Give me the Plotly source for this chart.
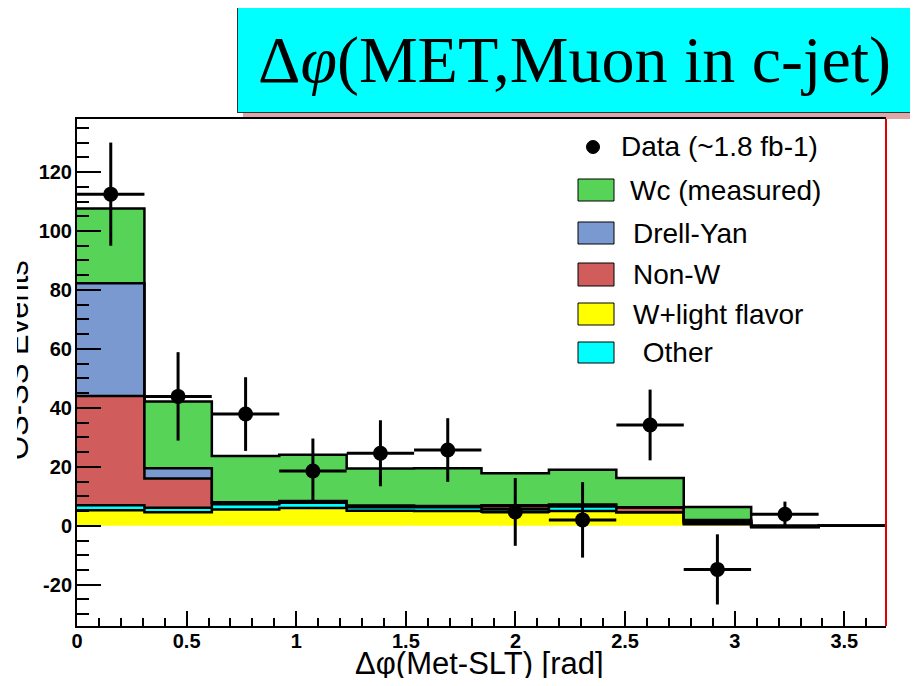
import plotly.graph_objects as go

# ---------------- data ----------------
bin_edges = [0.0, 0.3075, 0.615, 0.9225, 1.23, 1.5375, 1.845, 2.1525, 2.46, 2.7675, 3.075, 3.3825, 3.69]
wlight = [5.3, 4.6, 5.5, 6.0, 5.1, 5.0, 4.8, 5.0, 4.6, 0.5, 0.0, 0.0]
other = [1.7, 1.5, 1.8, 1.8, 1.2, 1.3, 1.0, 1.5, 0.0, 0.5, 0.0, 0.0]
nonw = [37.0, 9.9, 0.4, 0.4, 0.4, 0.3, 1.0, 0.5, 1.6, 0.5, -0.4, 0.0]
drellyan = [38.3, 3.5, 0.3, 0.2, 0.2, 0.1, 0.2, 0.2, 0.1, 0.5, 0.0, 0.0]
wc = [25.3, 22.7, 15.7, 15.7, 12.5, 12.8, 10.8, 11.8, 9.9, 4.4, 0.0, 0.0]

data_x = [0.154, 0.461, 0.769, 1.076, 1.384, 1.691, 1.999, 2.306, 2.614, 2.921, 3.229]
data_y = [112.5, 43.9, 37.9, 18.6, 24.6, 25.7, 4.7, 2.0, 34.2, -14.8, 3.9]
data_err = [17.5, 15.0, 12.5, 11.0, 11.2, 10.8, 11.5, 12.8, 12.0, 11.9, 4.3]
data_xerr = [0.1537] * 11

y_tick_vals = [-20, 0, 20, 40, 60, 80, 100, 120]
y_tick_text = ["-20", "0", "20", "40", "60", "80", "100", "120"]

series = [
    ("W+light flavor", wlight, "#ffff00"),
    ("Other", other, "#00ffff"),
    ("Non-W", nonw, "#d05c5c"),
    ("Drell-Yan", drellyan, "#7b99d1"),
    ("Wc (measured)", wc, "#57d357"),
]

# ---------------- figure ----------------
# page body has an 8px margin: screen coords = figure coords + 8
OFF = 8
FIG_W, FIG_H = 918 - 2 * OFF, 686 - 2 * OFF
L, R, T, B = 77, 886, 119, 626          # plot area in screen pixels
W, H = R - L, B - T


def px(x):
    return (x - L) / W


def py(y):
    return (B - y) / H


fig = go.Figure()
step_x = bin_edges[:-1] + [bin_edges[-1]]
for name, vals, col in series:
    fig.add_trace(go.Scatter(
        x=step_x, y=list(vals) + [vals[-1]], name=name,
        mode="lines", stackgroup="mc", line=dict(shape="hv", color="black", width=2.5),
        fillcolor=col, showlegend=False, hoverinfo="skip",
    ))

fig.add_trace(go.Scatter(
    x=data_x, y=data_y, mode="markers", name="Data (~1.8 fb-1)",
    marker=dict(color="black", size=15),
    error_y=dict(type="data", array=data_err, color="black", thickness=3, width=0),
    error_x=dict(type="data", array=data_xerr, color="black", thickness=3, width=0),
    showlegend=False,
))

shapes = []
annotations = []

# title box shadow + box
shapes.append(dict(type="rect", xref="paper", yref="paper", x0=px(243), x1=px(930), y0=py(119), y1=py(12),
                   fillcolor="#dba8aa", line=dict(width=0), layer="below"))
annotations.append(dict(xref="paper", yref="paper", x=px(574.5), y=py(59.5), xanchor="center", yanchor="middle",
                        text="Δ<i>φ</i>(MET,Muon in c-jet)", showarrow=False,
                        font=dict(family="Liberation Serif", size=66, color="black"),
                        bgcolor="#00ffff", bordercolor="#333333", borderwidth=1, borderpad=0,
                        width=673, height=105))

# right frame edge (red)
shapes.append(dict(type="line", xref="paper", yref="paper", x0=1, x1=1, y0=0, y1=1,
                   line=dict(color="#e00000", width=2)))

# manual legend
leg_font = dict(family="Liberation Sans, Arial", size=28, color="black")
shapes.append(dict(type="circle", xref="paper", yref="paper", x0=px(586.5), x1=px(599.5), y0=py(153.5), y1=py(140.5),
                   fillcolor="black", line=dict(color="black", width=1)))
annotations.append(dict(xref="paper", yref="paper", x=px(619), y=py(147), xanchor="left", yanchor="middle",
                        text="Data (~1.8 fb-1)", showarrow=False, font=leg_font))
leg_items = [
    ("Wc (measured)", "#57d357", 179, 201, 628),
    ("Drell-Yan", "#7b99d1", 222, 244, 631),
    ("Non-W", "#d05c5c", 263, 286, 631),
    ("W+light flavor", "#ffff00", 303, 325, 631),
    ("\u00a0Other", "#00ffff", 342, 363, 633),
]
for txt, col, y0, y1, tx in leg_items:
    shapes.append(dict(type="rect", xref="paper", yref="paper", x0=px(578), x1=px(614), y0=py(y1), y1=py(y0),
                       fillcolor=col, line=dict(color="black", width=1)))
    annotations.append(dict(xref="paper", yref="paper", x=px(tx), y=py((y0 + y1) / 2), xanchor="left",
                            yanchor="middle", text=txt, showarrow=False, font=leg_font))

# axis titles
annotations.append(dict(xref="paper", yref="paper", x=px(479), y=py(663), xanchor="center", yanchor="middle",
                        text="Δφ(Met-SLT) [rad]", showarrow=False,
                        font=dict(family="Liberation Sans, Arial", size=31, color="black")))
annotations.append(dict(xref="paper", yref="paper", x=px(17), y=py(360), xanchor="center", yanchor="middle",
                        text="OS-SS Events", textangle=-90, showarrow=False,
                        font=dict(family="Liberation Sans, Arial", size=31, color="black")))
# left clipping strip
annotations.append(dict(xref="paper", yref="paper", x=px(OFF), y=py(370), xanchor="left", yanchor="middle",
                        text=" ", showarrow=False, bgcolor="white", borderpad=0, borderwidth=0,
                        width=17 - OFF, height=280))

tick_font = dict(family="Liberation Sans, Arial", size=20, color="black", weight="bold")

fig.update_layout(
    width=FIG_W, height=FIG_H,
    margin=dict(l=L - OFF, r=FIG_W - (R - OFF), t=T - OFF, b=FIG_H - (B - OFF), autoexpand=False),
    paper_bgcolor="white", plot_bgcolor="white",
    showlegend=False,
    shapes=shapes, annotations=annotations,
    xaxis=dict(range=[0, 3.69], showgrid=False, zeroline=False, showline=True, linecolor="black", linewidth=2,
               mirror=True, ticks="inside", ticklen=15, tickwidth=2, tickcolor="black", dtick=0.5, tick0=0,
               tickfont=tick_font, ticklabelstandoff=-4,
               minor=dict(ticks="inside", ticklen=8, tickwidth=2, tickcolor="black", dtick=0.1, showgrid=False)),
    yaxis=dict(range=[-34, 138], showgrid=False, zeroline=False, showline=True, linecolor="black", linewidth=2,
               ticks="inside", ticklen=24, tickwidth=2, tickcolor="black",
               tickmode="array", tickvals=y_tick_vals, ticktext=y_tick_text,
               tickfont=tick_font, ticklabelstandoff=-1,
               minor=dict(ticks="inside", ticklen=12, tickwidth=2, tickcolor="black", dtick=5, tick0=0,
                          showgrid=False)),
)

fig.write_html("out.html")
